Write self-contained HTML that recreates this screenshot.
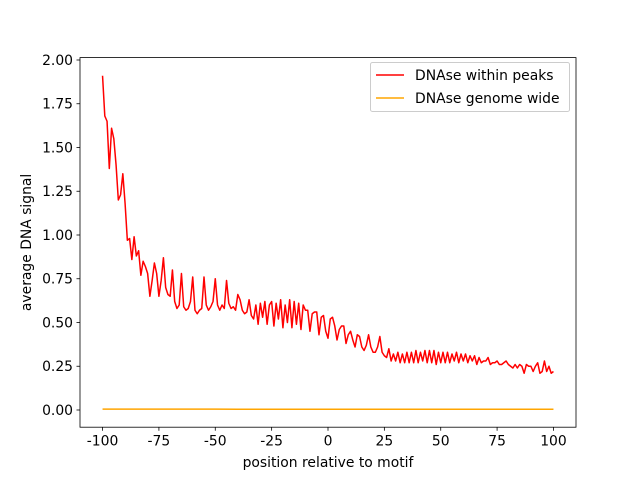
<!DOCTYPE html>
<html><head><meta charset="utf-8"><style>
body{margin:0;background:#fff}
svg text{font-family:"DejaVu Sans","Liberation Sans",sans-serif;font-size:13.9px;fill:#000}
</style></head><body>
<svg width="640" height="480" viewBox="0 0 640 480" id="c">
<rect x="0" y="0" width="640" height="480" fill="#fff"/>
</svg>
<script>
const peakVals=[1.91,1.68,1.65,1.38,1.61,1.55,1.40,1.20,1.23,1.35,1.18,0.97,0.98,0.86,0.99,0.88,0.91,0.77,0.85,0.82,0.78,0.65,0.74,0.84,0.78,0.65,0.74,0.87,0.70,0.66,0.65,0.80,0.62,0.58,0.60,0.78,0.59,0.57,0.58,0.62,0.76,0.57,0.55,0.57,0.58,0.76,0.60,0.57,0.59,0.62,0.75,0.60,0.57,0.60,0.58,0.74,0.61,0.58,0.59,0.57,0.66,0.63,0.57,0.55,0.56,0.63,0.54,0.52,0.60,0.49,0.61,0.53,0.62,0.49,0.60,0.62,0.48,0.61,0.52,0.63,0.47,0.60,0.50,0.63,0.47,0.62,0.49,0.61,0.46,0.60,0.57,0.57,0.45,0.55,0.56,0.56,0.43,0.53,0.54,
0.45,0.41,0.52,0.53,0.48,0.40,0.46,0.48,0.48,0.38,0.43,0.45,0.40,0.36,0.43,0.42,0.36,0.34,0.37,0.43,0.36,0.33,0.33,0.36,0.42,0.33,0.31,0.30,0.35,0.28,0.32,0.28,0.33,0.27,0.32,0.27,0.33,0.27,0.33,0.27,0.34,0.27,0.33,0.28,0.34,0.27,0.34,0.27,0.34,0.26,0.33,0.27,0.33,0.27,0.33,0.27,0.32,0.28,0.33,0.27,0.32,0.28,0.32,0.27,0.31,0.28,0.31,0.26,0.30,0.27,0.28,0.28,0.30,0.26,0.27,0.27,0.28,0.26,0.26,0.27,0.28,0.26,0.25,0.24,0.26,0.24,0.26,0.25,0.21,0.26,0.25,0.25,0.22,0.25,0.27,0.21,0.22,0.28,0.22,0.25,0.21,0.22];
const genomeX=[-100,-90,-80,-70,-60,-50,-40,-30,-20,-10,0,10,20,30,40,50,60,70,80,90,100];
const genomeVals=[0.005,0.005,0.005,0.005,0.005,0.005,0.004,0.004,0.004,0.004,0.004,0.004,0.004,0.004,0.004,0.004,0.004,0.004,0.004,0.004,0.004];
const xTicks=[-100,-75,-50,-25,0,25,50,75,100];
const yTicks=[0,0.25,0.5,0.75,1.0,1.25,1.5,1.75,2.0];
const L=80,R=576,T=57.6,B=427.2;
const xMin=-110,xMax=110,yMin=-0.0983,yMax=2.0137;
const sx=v=>L+(v-xMin)/(xMax-xMin)*(R-L);
const sy=v=>B-(v-yMin)/(yMax-yMin)*(B-T);
const svg=document.getElementById('c');const NS='http://www.w3.org/2000/svg';
function mk(t,a,p){const e=document.createElementNS(NS,t);for(const k in a)e.setAttribute(k,a[k]);(p||svg).appendChild(e);return e;}
const peakX=peakVals.map((v,i)=>i-100);
const l1=mk('polyline',{points:peakX.map((x,i)=>sx(x)+','+sy(peakVals[i])).join(' '),fill:'none',stroke:'#ff0000','stroke-width':1.5,'stroke-linejoin':'round'});


const l2=mk('polyline',{points:genomeX.map((x,i)=>sx(x)+','+sy(genomeVals[i])).join(' '),fill:'none',stroke:'#ffa500','stroke-width':1.5});


const fr=mk('rect',{x:L,y:T,width:R-L,height:B-T,fill:'none',stroke:'#000','stroke-width':0.8});


xTicks.forEach(v=>{const x=sx(v);mk('line',{x1:x,x2:x,y1:B,y2:B+3.5,stroke:'#000','stroke-width':0.8});
const t=mk('text',{x:x,y:B+18.5,'text-anchor':'middle'});t.textContent=v;

});
yTicks.forEach(v=>{const y=sy(v);mk('line',{x1:L-3.5,x2:L,y1:y,y2:y,stroke:'#000','stroke-width':0.8});
const t=mk('text',{x:L-7,y:y+5,'text-anchor':'end'});t.textContent=v.toFixed(2);

});
const xt=mk('text',{x:(L+R)/2,y:467,'text-anchor':'middle'});xt.textContent='position relative to motif';


const yt=mk('text',{x:0,y:0,'text-anchor':'middle',transform:'translate(31,'+((T+B)/2)+') rotate(-90)'});yt.textContent='average DNA signal';


const lg=mk('g',{});


mk('rect',{x:370.5,y:62.5,width:199,height:49,rx:2,fill:'#fff','fill-opacity':0.8,stroke:'#ccc','stroke-width':1},lg);
[['DNAse within peaks','#ff0000',75],['DNAse genome wide','#ffa500',98]].forEach(e=>{
mk('line',{x1:376,x2:404,y1:e[2],y2:e[2],stroke:e[1],'stroke-width':1.5},lg);
const t=mk('text',{x:415,y:e[2]+5},lg);t.textContent=e[0];

});
</script>
</body></html>
